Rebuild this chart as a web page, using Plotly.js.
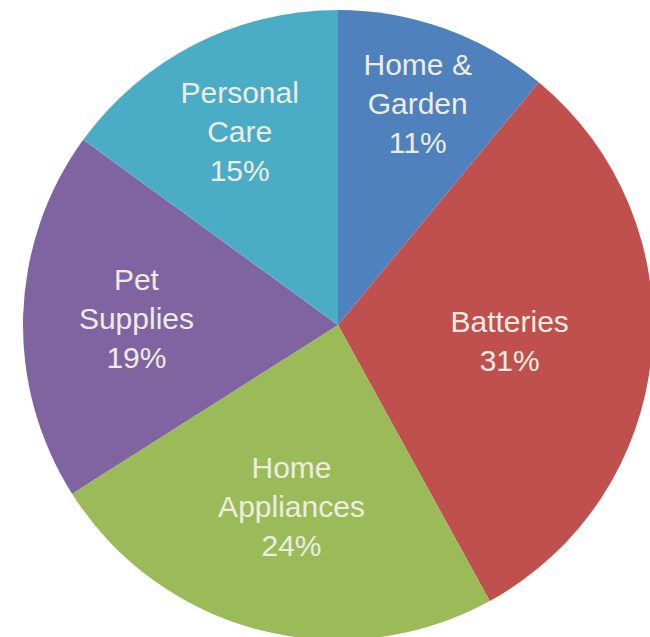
<!DOCTYPE html>
<html>
<head>
<meta charset="utf-8">
<script src="https://cdn.plot.ly/plotly-3.0.1.min.js"></script>
<style>
html, body { margin: 0; padding: 0; overflow: hidden; background: #ffffff; }
#chart { position: absolute; left: 0; top: 0; width: 676px; height: 650px; }
</style>
</head>
<body>
<div id="chart"></div>
<script>
const categories = ["Home & Garden", "Batteries", "Home Appliances", "Pet Supplies", "Personal Care"];
const wrappedLabels = ["Home &<br>Garden", "Batteries", "Home<br>Appliances", "Pet<br>Supplies", "Personal<br>Care"];
const shares = [11, 31, 24, 19, 15];
const sliceColors = ["#4F81BD", "#C0504D", "#9BBB59", "#8064A2", "#4BACC6"];

const W = 676, H = 650;
const cx = 338, cy = 325, r = 315;

const trace = {
  type: "pie",
  labels: categories,
  values: shares,
  customdata: wrappedLabels,
  sort: false,
  direction: "clockwise",
  rotation: 0,
  marker: { colors: sliceColors, line: { width: 0 } },
  textinfo: "text",
  texttemplate: "%{customdata}<br>%{percent:.0%}",
  textposition: "inside",
  insidetextorientation: "horizontal",
  insidetextfont: { family: "Liberation Sans, Arial, sans-serif", size: 30, color: "#EEECE1" },
  hoverinfo: "none",
  showlegend: false,
  domain: {
    x: [(cx - r) / W, (cx + r) / W],
    y: [(H - cy - r) / H, (H - cy + r) / H]
  }
};

Plotly.newPlot("chart", [trace], {
  width: W,
  height: H,
  margin: { l: 0, r: 0, t: 0, b: 0, pad: 0 },
  paper_bgcolor: "#ffffff",
  showlegend: false
}, { staticPlot: true, displayModeBar: false });
</script>
</body>
</html>
